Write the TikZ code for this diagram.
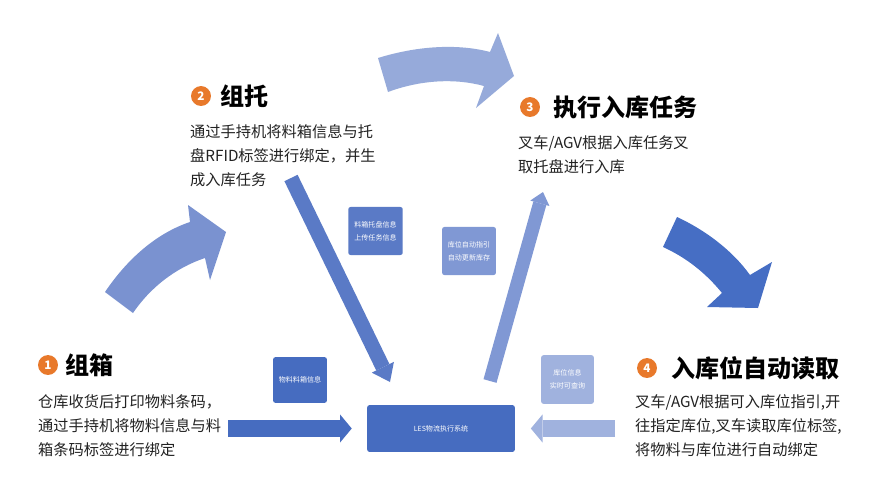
\documentclass[tikz,border=0pt]{standalone}
\usepackage{fontspec}
\setmainfont{Noto Sans CJK SC}
\usetikzlibrary{arrows.meta}
\usetikzlibrary{positioning}
\definecolor{orange1}{RGB}{232, 121, 43}
\definecolor{ink}{RGB}{34, 34, 34}
\definecolor{blueA}{RGB}{122, 146, 208}
\definecolor{blueB}{RGB}{150, 170, 218}
\definecolor{blueC}{RGB}{70, 110, 196}
\definecolor{blueD}{RGB}{90, 122, 198}
\definecolor{blueE}{RGB}{128, 152, 212}
\definecolor{blueF}{RGB}{70, 108, 192}
\definecolor{blueG}{RGB}{160, 178, 222}
\def\bodyfont{\fontsize{13}{20.5}\selectfont}
\tikzset{
stepnum/.style={circle,fill=orange1,text=white,inner sep=0pt,minimum size=17pt,
	font=\bfseries\fontsize{10}{10}\selectfont},
steptitle/.style={anchor=west,inner sep=0pt,text=black,font=\bfseries\fontsize{20.5}{20.5}\selectfont},
stepbody/.style={anchor=north west,align=left,inner sep=0pt,text=ink,font=\bodyfont},
infobox/.style={rounded corners=2pt,fill=#1,text=white,align=center,inner sep=0pt,
	font=\fontsize{6}{11}\selectfont},
blockarrow/.style n args={4}{draw=#1,line width=#2,
	-{Triangle[length=#3,width=#4,line width=0pt]}},
}

\begin{document}
\begin{tikzpicture}[x=0.03cm,y=-0.03cm]
\useasboundingbox (0,0) rectangle (890,494);
\fill[white] (0,0) rectangle (890,494);

%Curved arrows between the steps
\fill[blueA] (105,292) .. controls (130,255) and (160,232) .. (190,222)
	-- (188,205) -- (226,232) -- (210,280) -- (205,258)
	.. controls (175,268) and (150,288) .. (133,313) -- cycle;
\fill[blueB] (378,58) .. controls (420,45) and (460,44) .. (490,52)
	-- (498,33) -- (514,76) -- (476,108) -- (484,86)
	.. controls (455,78) and (420,80) .. (388,92) -- cycle;
\fill[blueC] (677,217) .. controls (705,230) and (732,250) .. (750,275)
	-- (772,262) -- (758,308) -- (707,307) -- (722,293)
	.. controls (705,272) and (685,257) .. (663,247) -- cycle;

%Place the nodes
\node[stepnum] (n1) at (48,365) {1};
\node[steptitle, right=6pt of n1] (t1) {组箱};
\node[stepbody] (b1) at (38,394) {仓库收货后打印物料条码，\\通过手持机将物料信息与料\\箱条码标签进行绑定};

\node[stepnum] (n2) at (201,96) {2};
\node[steptitle, right=8pt of n2] (t2) {组托};
\node[stepbody] (b2) at (190,124) {通过手持机将料箱信息与托\\盘RFID标签进行绑定，并生\\成入库任务};

\node[stepnum] (n3) at (530,107) {3};
\node[steptitle, right=11pt of n3] (t3) {执行入库任务};
\node[stepbody] (b3) at (518,135) {叉车/AGV根据入库任务叉\\取托盘进行入库};

\node[stepnum] (n4) at (647,368) {4};
\node[steptitle, right=12pt of n4] (t4) {入库位自动读取};
\node[stepbody] (b4) at (635,394) {叉车/AGV根据可入库位指引,开\\往指定库位,叉车读取库位标签,\\将物料与库位进行自动绑定};

%Info boxes
\node[infobox=blueF, minimum width=126pt, minimum height=40pt] (les) at (441,428.5) {LES物流执行系统};
\node[infobox=blueF, minimum width=46pt, minimum height=39pt] (wl) at (300,380) {物料料箱信息};
\node[infobox=blueG, minimum width=45pt, minimum height=41.5pt] (kw) at (567.5,379.5) {库位信息\\实时可查询};
\node[infobox=blueD, minimum width=46.5pt, minimum height=41pt] (lx) at (375.5,231) {料箱托盘信息\\上传任务信息};
\node[infobox=blueE, minimum width=46pt, minimum height=41pt] (zd) at (469,251) {库位自动指引\\自动更新库存};

%Straight arrows
\coordinate (a1) at (228,428.5);
\coordinate (a2) at (291,178);
\coordinate (h2) at (390,382);
\coordinate (a3) at (490,381);
\coordinate (h3) at (543,192);
\coordinate (a4) at (615,428.5);

\draw[blockarrow={blueF}{14.5pt}{10pt}{24pt}, shorten >=13pt] (a1) to (les);
\draw[blockarrow={blueD}{12.5pt}{14pt}{21pt}] (a2) to (h2);
\draw[blockarrow={blueE}{11.5pt}{10pt}{17pt}] (a3) to (h3);
\draw[blockarrow={blueG}{14.5pt}{10pt}{24pt}, shorten >=13.5pt] (a4) to (les);

\end{tikzpicture}
\end{document}
